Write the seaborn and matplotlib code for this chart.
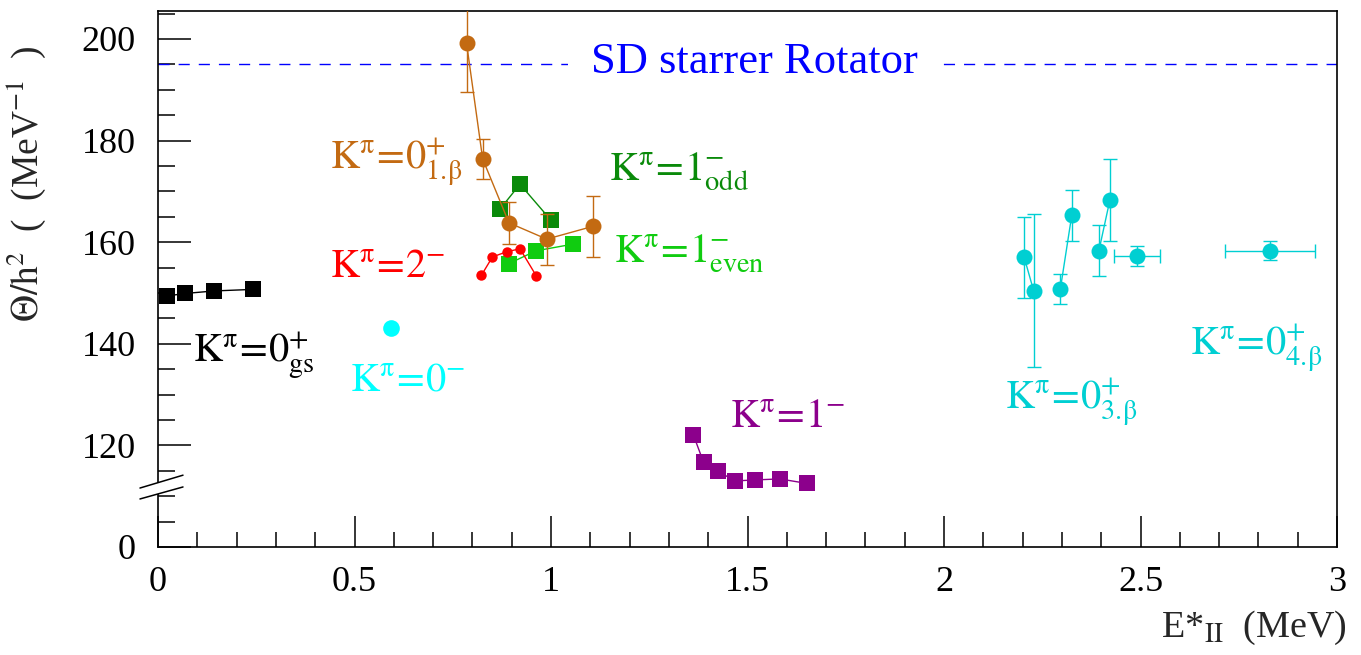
import matplotlib
matplotlib.use("Agg")
import matplotlib.pyplot as plt
from matplotlib.ticker import MultipleLocator, FixedLocator
from matplotlib.patches import Polygon
from matplotlib.lines import Line2D
import seaborn as sns
import pandas as pd

# ---- data: excitation energy (MeV) and moment of inertia Theta/hbar^2 (MeV^-1) ----
gs_x = [0.022, 0.069, 0.143, 0.241]
gs_y = [149.4, 149.9, 150.4, 150.7]

km0_x = [0.594]
km0_y = [143.1]

b1_x = [0.785, 0.826, 0.893, 0.989, 1.106]
b1_y = [199.2, 176.4, 163.8, 160.6, 163.1]
b1_err = [9.6, 3.9, 4.1, 5.0, 6.0]

odd_x = [0.870, 0.921, 0.999]
odd_y = [166.5, 171.4, 164.4]

even_x = [0.893, 0.962, 1.055]
even_y = [155.8, 158.3, 159.6]

k2_x = [0.823, 0.851, 0.887, 0.921, 0.963]
k2_y = [153.5, 157.1, 158.1, 158.7, 153.3]

k1_x = [1.362, 1.388, 1.424, 1.467, 1.519, 1.582, 1.652]
k1_y = [122.1, 116.7, 115.0, 113.0, 113.2, 113.4, 112.5]

b3_x = [2.204, 2.228, 2.296, 2.325, 2.394, 2.422, 2.491]
b3_y = [157.0, 150.45, 150.8, 165.3, 158.3, 168.3, 157.3]
b3_yerr = [8.0, 15.0, 3.0, 5.0, 5.0, 8.0, 1.9]
b3_xerr = [0.0, 0.0, 0.0, 0.0, 0.0, 0.0, 0.059]
b3_pair = [0, 0, 1, 1, 2, 2, 3]

b4_x = [2.829]
b4_y = [158.3]
b4_yerr = [1.9]
b4_xerr = [0.115]

sd_rotator = 195.0

x_ticks = [0, 0.5, 1, 1.5, 2, 2.5, 3]
x_ticklabels = ["0", "0.5", "1", "1.5", "2", "2.5", "3"]
y_ticklabels = ["0", "120", "140", "160", "180", "200"]
y_tickvalues = [100, 120, 140, 160, 180, 200]

# the value axis is broken: everything above the break is shifted down by 100
Y_SHIFT = 100.0


def shifted(vals):
    return [v - Y_SHIFT for v in vals]


sns.set_style("ticks")
plt.rcParams["font.family"] = ["Liberation Serif", "DejaVu Serif"]
plt.rcParams["mathtext.fontset"] = "stix"

fig = plt.figure(figsize=(13.61, 6.55), dpi=100)
ax = fig.add_axes([0.1161, 0.1649, 0.8663, 0.8183])

ORANGE = "#c36a12"
DKGREEN = "#0a8a0a"
LTGREEN = "#10cc10"
RED = "#ff0000"
PURPLE = "#8c008c"
CYAN = "#00ffff"
TURQ = "#00cfd2"
BLUE = "#0000ff"


def series(x, y, color, marker, ms, units=None, z=3):
    df = pd.DataFrame({"x": x, "y": shifted(y)})
    kw = {}
    if units is not None:
        df["u"] = units
        kw = dict(units="u", estimator=None)
    sns.lineplot(data=df, x="x", y="y", ax=ax, color=color, marker=marker,
                 markersize=ms, markeredgecolor=color, markeredgewidth=0,
                 linewidth=1.0, sort=False, legend=False, zorder=z, **kw)


# SD rotator reference line with its caption
ax.axhline(sd_rotator - Y_SHIFT, color=BLUE, lw=1.0, dashes=(8, 6.5), zorder=2.0)
ax.text(1.518, 93.2, "SD starrer Rotator", color=BLUE, fontsize=32,
        ha="center", va="baseline", zorder=2.2,
        bbox=dict(fc="white", ec="none", pad=17))

series(gs_x, gs_y, "black", "s", 11.5)
series(km0_x, km0_y, CYAN, "o", 12)
series(k1_x, k1_y, PURPLE, "s", 11.5)
series(even_x, even_y, LTGREEN, "s", 11.5, z=3.1)
series(k2_x, k2_y, RED, "o", 7.5, z=3.2)
series(odd_x, odd_y, DKGREEN, "s", 11.5, z=3.3)

ax.errorbar(b1_x, shifted(b1_y), yerr=b1_err, fmt="none", ecolor=ORANGE,
            elinewidth=1.0, capsize=5, capthick=1.0, zorder=3.4)
series(b1_x, b1_y, ORANGE, "o", 11.5, z=3.5)

ax.errorbar(b3_x, shifted(b3_y), yerr=b3_yerr, xerr=b3_xerr, fmt="none",
            ecolor=TURQ, elinewidth=1.0, capsize=5, capthick=1.0, zorder=3.4)
series(b3_x, b3_y, TURQ, "o", 11.5, units=b3_pair, z=3.5)
ax.errorbar(b4_x, shifted(b4_y), yerr=b4_yerr, xerr=b4_xerr, fmt="none",
            ecolor=TURQ, elinewidth=1.0, capsize=5, capthick=1.0, zorder=3.4)
series(b4_x, b4_y, TURQ, "o", 11.5, z=3.5)

# band labels
lab = dict(fontsize=29, va="baseline", ha="left")
K = r"\mathrm{K}^{\mathrm{\pi}}\!=\!"
ax.text(0.4377, 74.5, "$" + K + r"0^{+}_{\mathrm{1.}\!\mathrm{\beta}}$", color=ORANGE, **lab)
ax.text(0.4377, 53.1, "$" + K + r"2^{-}$", color=RED, **lab)
ax.text(1.147, 72.2, "$" + K + r"1^{-}_{\mathrm{odd}}$", color=DKGREEN, **lab)
ax.text(1.160, 56.0, "$" + K + r"1^{-}_{\mathrm{even}}$", color=LTGREEN, **lab)
ax.text(0.0893, 36.6, "$" + K + r"0^{+}_{\mathrm{gs}}$", color="black", **lab)
ax.text(0.489, 30.9, "$" + K + r"0^{-}$", color=CYAN, **lab)
ax.text(1.455, 23.6, "$" + K + r"1^{-}$", color=PURPLE, **lab)
ax.text(2.154, 27.3, "$" + K + r"0^{+}_{\mathrm{3.}\!\mathrm{\beta}}$", color=TURQ, **lab)
ax.text(2.625, 38.0, "$" + K + r"0^{+}_{\mathrm{4.}\!\mathrm{\beta}}$", color=TURQ, **lab)

# axes, ticks
ax.set_xlim(0, 3)
ax.set_ylim(0, 105.5)
ax.xaxis.set_major_locator(FixedLocator(x_ticks))
ax.set_xticklabels(x_ticklabels)
ax.xaxis.set_minor_locator(MultipleLocator(0.1))
ax.set_yticks(shifted(y_tickvalues))
ax.set_yticklabels(y_ticklabels)
ax.yaxis.set_minor_locator(MultipleLocator(5))
ax.tick_params(which="both", direction="in", width=1.1, colors="black",
               labelsize=26, top=False, right=False)
ax.tick_params(axis="y", which="major", length=23.5, pad=16)
ax.tick_params(axis="y", which="minor", length=12)
ax.tick_params(axis="x", which="major", length=22, pad=14)
ax.tick_params(axis="x", which="minor", length=11)
for s in ax.spines.values():
    s.set_visible(True)
    s.set_linewidth(1.2)
    s.set_color("black")

ax.set_xlabel(r"E*$_{\mathrm{II}}\ $ (MeV)", fontsize=27.5, loc="right")
ax.xaxis.set_label_coords(1.008, -0.115)
ax.set_ylabel(r"$\Theta/\mathrm{h}^{2}$  (  (MeV$^{\mathrm{-1}}$  )", fontsize=27, loc="top")
ax.yaxis.set_label_coords(-0.093, 0.935)

# axis-break marker on the value axis
brk = Polygon([(-0.0153, 0.0896), (0.0212, 0.112), (0.0212, 0.134), (-0.0153, 0.110)],
              closed=True, transform=ax.transAxes, fc="white", ec="none",
              clip_on=False, zorder=5)
ax.add_patch(brk)
for y0, y1 in [(0.110, 0.134), (0.0896, 0.112)]:
    ax.add_line(Line2D([-0.0153, 0.0212], [y0, y1], transform=ax.transAxes,
                       color="black", lw=1.1, clip_on=False, zorder=6))

fig.savefig("out.png", dpi=100, facecolor="white")
